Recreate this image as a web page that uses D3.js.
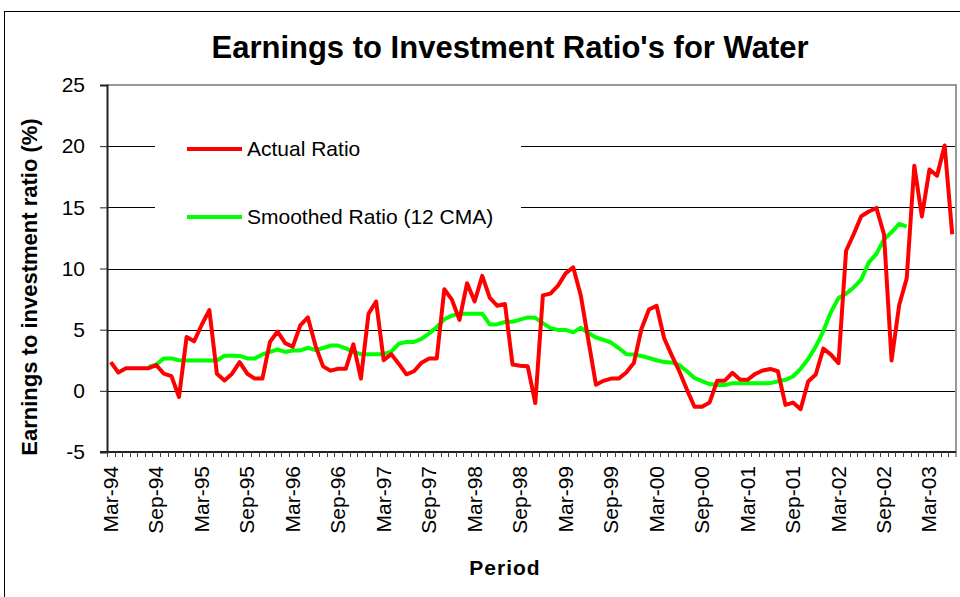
<!DOCTYPE html>
<html>
<head>
<meta charset="utf-8">
<script src="https://cdn.jsdelivr.net/npm/d3@7"></script>
<style>
  body { margin: 0; background: #fff; }
  svg { display: block; font-family: "Liberation Sans", Arial, sans-serif; }
</style>
</head>
<body>
<div id="chart"></div>
<script>
// Earnings to investment ratio, monthly Mar-94 .. Jun-03
const categories = d3.timeMonth.range(new Date(1994, 2, 1), new Date(2003, 6, 1))
    .map(d3.timeFormat('%b-%y'));

const tickLabels = ['Mar-94', 'Sep-94', 'Mar-95', 'Sep-95', 'Mar-96', 'Sep-96', 'Mar-97',
    'Sep-97', 'Mar-98', 'Sep-98', 'Mar-99', 'Sep-99', 'Mar-00', 'Sep-00', 'Mar-01',
    'Sep-01', 'Mar-02', 'Sep-02', 'Mar-03'];

const yTicks = [-5, 0, 5, 10, 15, 20, 25];

const actualRatio = [
    2.35, 1.5, 1.85, 1.85, 1.85, 1.85, 2.1, 1.4, 1.2, -0.5,
    4.4, 4.05, 5.4, 6.6, 1.4, 0.85, 1.4, 2.35, 1.4, 1.0,
    1.0, 4.0, 4.85, 3.9, 3.6, 5.35, 6.0, 3.7, 2.0, 1.65,
    1.8, 1.8, 3.8, 1.0, 6.3, 7.3, 2.5, 3.0, 2.2, 1.35,
    1.6, 2.3, 2.65, 2.65, 8.3, 7.45, 5.8, 8.8, 7.3, 9.4,
    7.6, 6.95, 7.1, 2.15, 2.05, 2.0, -1.0, 7.8, 7.95, 8.6,
    9.6, 10.1, 7.8, 4.15, 0.5, 0.82, 1.0, 1.0, 1.5, 2.27,
    5.05, 6.65, 6.95, 4.3, 2.9, 1.6, 0.1, -1.3, -1.3, -0.95,
    0.83, 0.83, 1.47, 0.93, 0.9, 1.38, 1.66, 1.79, 1.6, -1.15,
    -0.96, -1.5, 0.77, 1.33, 3.45, 2.96, 2.27, 11.45, 12.8, 14.27,
    14.66, 14.95, 12.8, 2.48, 7.0, 9.2, 18.4, 14.25, 18.1, 17.58,
    20.06, 12.8
];

// 12 month centred moving average, first value sits on Aug-94
const smoothedStart = 5;
const smoothedRatio = [
    1.95, 2.15, 2.65, 2.65, 2.5, 2.48, 2.48, 2.48, 2.48, 2.48,
    2.87, 2.87, 2.85, 2.65, 2.65, 2.97, 3.18, 3.38, 3.18, 3.3,
    3.3, 3.52, 3.33, 3.5, 3.7, 3.7, 3.47, 3.18, 3.0, 3.0,
    3.0, 3.0, 3.2, 3.85, 4.0, 4.0, 4.25, 4.7, 5.2, 5.85,
    6.15, 6.3, 6.3, 6.3, 6.3, 5.43, 5.45, 5.63, 5.65, 5.82,
    6.0, 5.97, 5.53, 5.13, 4.98, 4.98, 4.78, 5.15, 4.72, 4.36,
    4.16, 3.95, 3.5, 3.0, 2.97, 2.85, 2.68, 2.5, 2.35, 2.32,
    2.1, 1.6, 1.05, 0.8, 0.55, 0.47, 0.47, 0.63, 0.63, 0.63,
    0.63, 0.63, 0.63, 0.77, 0.9, 1.17, 1.8, 2.6, 3.62, 4.88,
    6.45, 7.58, 7.93, 8.45, 9.1, 10.5, 11.2, 12.38, 12.96, 13.64,
    13.43
];

const width = 960;
const height = 597;
const plot = { left: 107, right: 956, top: 85, bottom: 452 };

const svg = d3.select('#chart').append('svg')
    .attr('width', width)
    .attr('height', height);

// Outer chart frame
svg.append('rect')
    .attr('x', 4.5)
    .attr('y', 11.5)
    .attr('width', width)
    .attr('height', height)
    .attr('fill', '#fff')
    .attr('stroke', '#000')
    .attr('stroke-width', 1);

// Scales
const x = d3.scaleBand()
    .domain(categories)
    .range([plot.left, plot.right]);

const y = d3.scaleLinear()
    .domain([-5, 25])
    .range([plot.bottom, plot.top]);

const cx = c => x(c) + x.bandwidth() / 2;

// Grid
svg.append('g')
    .selectAll('line')
    .data(yTicks.filter(d => d > -5 && d < 25))
    .enter()
    .append('line')
    .attr('x1', plot.left)
    .attr('x2', plot.right)
    .attr('y1', d => Math.round(y(d)) + 0.5)
    .attr('y2', d => Math.round(y(d)) + 0.5)
    .attr('stroke', '#000')
    .attr('stroke-width', 1.2);

// Plot frame (top and right in grey)
svg.append('path')
    .attr('d', `M${plot.left},${plot.top}H${plot.right}V${plot.bottom}`)
    .attr('fill', 'none')
    .attr('stroke', '#999')
    .attr('stroke-width', 2);

// Y axis
const yAxis = svg.append('g')
    .attr('transform', `translate(${plot.left},0)`)
    .call(d3.axisLeft(y)
        .tickValues(yTicks)
        .tickFormat(d => String(d))
        .tickSize(7)
        .tickPadding(15));
yAxis.select('.domain').attr('stroke', '#222').attr('stroke-width', 2);
yAxis.selectAll('.tick line').attr('stroke', '#222');
yAxis.selectAll('text')
    .attr('font-size', '21px')
    .attr('font-family', '"Liberation Sans", Arial, sans-serif')
    .attr('fill', '#000');

// X axis line and tick marks between categories
svg.append('line')
    .attr('x1', plot.left - 7)
    .attr('x2', plot.right)
    .attr('y1', plot.bottom)
    .attr('y2', plot.bottom)
    .attr('stroke', '#222')
    .attr('stroke-width', 2);

svg.append('g')
    .selectAll('line')
    .data(categories.concat(['end']))
    .enter()
    .append('line')
    .attr('x1', d => d === 'end' ? plot.right : Math.round(x(d)) + 0.5)
    .attr('x2', d => d === 'end' ? plot.right : Math.round(x(d)) + 0.5)
    .attr('y1', plot.bottom)
    .attr('y2', plot.bottom + 5)
    .attr('stroke', '#444')
    .attr('stroke-width', 1);

svg.append('g')
    .selectAll('text')
    .data(tickLabels)
    .enter()
    .append('text')
    .attr('transform', d => `translate(${cx(d) + 7},466) rotate(-90)`)
    .attr('text-anchor', 'end')
    .attr('font-size', '21px')
    .attr('fill', '#000')
    .text(d => d);

// Legend box
svg.append('rect')
    .attr('x', 155)
    .attr('y', 120)
    .attr('width', 366)
    .attr('height', 125)
    .attr('fill', '#fff');

// Lines
const line = d3.line()
    .x(d => cx(d.cat))
    .y(d => y(d.value));

const actualData = actualRatio.map((v, i) => ({ cat: categories[i], value: v }));
const smoothedData = smoothedRatio.map((v, i) => ({ cat: categories[i + smoothedStart], value: v }));

svg.append('path')
    .datum(smoothedData)
    .attr('d', line)
    .attr('fill', 'none')
    .attr('stroke', '#00ff00')
    .attr('stroke-width', 4)
    .attr('stroke-linejoin', 'round');

svg.append('path')
    .datum(actualData)
    .attr('d', line)
    .attr('fill', 'none')
    .attr('stroke', '#ff0000')
    .attr('stroke-width', 4)
    .attr('stroke-linejoin', 'round');

// Legend entries
const legend = [
    { label: 'Actual Ratio', color: '#ff0000', y: 149 },
    { label: 'Smoothed Ratio (12 CMA)', color: '#00ff00', y: 217 }
];

legend.forEach(d => {
    svg.append('line')
        .attr('x1', 187)
        .attr('x2', 242)
        .attr('y1', d.y)
        .attr('y2', d.y)
        .attr('stroke', d.color)
        .attr('stroke-width', 4);
    svg.append('text')
        .attr('x', 247)
        .attr('y', d.y)
        .attr('dy', '0.35em')
        .attr('font-size', '21px')
        .attr('fill', '#000')
        .text(d.label);
});

// Titles
svg.append('text')
    .attr('x', 510)
    .attr('y', 58)
    .attr('text-anchor', 'middle')
    .attr('font-size', '31px')
    .attr('font-weight', 'bold')
    .attr('fill', '#000')
    .text("Earnings to Investment Ratio's for Water");

svg.append('text')
    .attr('transform', 'translate(37,287) rotate(-90)')
    .attr('text-anchor', 'middle')
    .attr('font-size', '22px')
    .attr('font-weight', 'bold')
    .attr('fill', '#000')
    .text('Earnings to investment ratio (%)');

svg.append('text')
    .attr('x', 505)
    .attr('y', 575)
    .attr('text-anchor', 'middle')
    .attr('font-size', '21px')
    .attr('font-weight', 'bold')
    .attr('letter-spacing', '1px')
    .attr('fill', '#000')
    .text('Period');
</script>
</body>
</html>
